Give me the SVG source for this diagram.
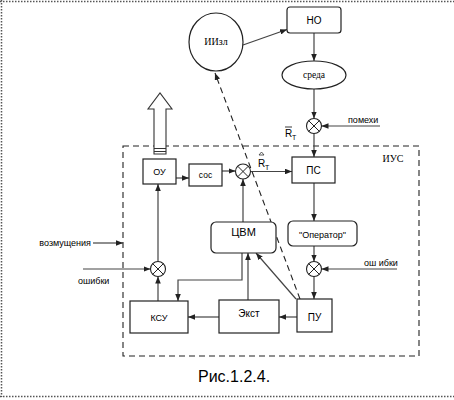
<svg xmlns="http://www.w3.org/2000/svg" width="454" height="400" viewBox="0 0 454 400">
<style>
.box{fill:#fff;stroke:#222;stroke-width:1.2}
.ln{fill:none;stroke:#444;stroke-width:1.2}
.arr{marker-end:url(#ah)}
.dash{fill:none;stroke:#222;stroke-width:1.1;stroke-dasharray:6 4}
.sj circle{fill:#fff;stroke:#222;stroke-width:1.1}
.sj line{stroke:#222;stroke-width:1}
.sa{font-family:"Liberation Sans",Arial,sans-serif;fill:#000}
.ss{font-family:"Liberation Serif","Times New Roman",serif;fill:#000}
.m{text-anchor:middle}
</style>
<defs>
<marker id="ah" viewBox="0 0 10 8" refX="10" refY="4" markerWidth="7" markerHeight="5.6" markerUnits="userSpaceOnUse" orient="auto">
<path d="M0,0 L10,4 L0,8 Z" fill="#222"/>
</marker>
<g id="sum" class="sj">
<circle r="7.5"/>
<line x1="-5.3" y1="-5.3" x2="5.3" y2="5.3"/>
<line x1="-5.3" y1="5.3" x2="5.3" y2="-5.3"/>
</g>
</defs>
<rect width="454" height="400" fill="#fff"/>
<!-- page border -->
<g id="page" fill="none" stroke="#555" stroke-width="1.5" stroke-dasharray="1.5 1.5">
<line x1="0" y1="1.5" x2="454" y2="1.5"/>
<line x1="1.5" y1="0" x2="1.5" y2="397"/>
<line x1="0" y1="396.5" x2="454" y2="396.5"/>
</g>
<!-- ИУС boundary -->
<g id="ius">
<rect x="123" y="146" width="296" height="210" class="dash"/>
<text x="393" y="162" class="ss m" font-size="10">ИУС</text>
</g>
<!-- connectors -->
<g id="connectors">
<line x1="243" y1="45" x2="287" y2="29.5" class="ln arr"/>
<line x1="314" y1="33" x2="314" y2="61" class="ln arr"/>
<line x1="314" y1="89" x2="314" y2="118.5" class="ln arr"/>
<line x1="380" y1="126" x2="321.5" y2="126" class="ln arr"/>
<line x1="314" y1="133.5" x2="314" y2="157" class="ln arr"/>
<line x1="250.5" y1="171.5" x2="292" y2="171.5" class="ln arr"/>
<line x1="176" y1="178" x2="189" y2="178" class="ln arr"/>
<line x1="222" y1="171" x2="235.5" y2="171" class="ln arr"/>
<line x1="243" y1="222" x2="243" y2="179" class="ln arr"/>
<polyline points="242,253 242,280 178,280 178,301" class="ln arr"/>
<line x1="248" y1="300" x2="248" y2="253" class="ln arr"/>
<line x1="296" y1="299" x2="256" y2="253" class="ln arr"/>
<line x1="297" y1="317" x2="279" y2="317" class="ln arr"/>
<line x1="219" y1="317" x2="188" y2="317" class="ln arr"/>
<line x1="158" y1="301" x2="158" y2="276.5" class="ln arr"/>
<line x1="158" y1="261.5" x2="158" y2="184" class="ln arr"/>
<line x1="83" y1="269" x2="150.5" y2="269" class="ln arr"/>
<line x1="93" y1="243" x2="123" y2="243" class="ln arr"/>
<line x1="314" y1="183" x2="314" y2="221" class="ln arr"/>
<line x1="314" y1="246" x2="314" y2="261.5" class="ln arr"/>
<line x1="397" y1="269" x2="321.5" y2="269" class="ln arr"/>
<line x1="314" y1="276.5" x2="314" y2="299" class="ln arr"/>
<line x1="300" y1="299" x2="215" y2="73" class="dash arr"/>
</g>
<!-- hollow output arrow -->
<g id="output">
<path d="M154,154 L154,109 L148,109 L160,93 L172,109 L166,109 L166,154 Z" fill="#fff" stroke="#333" stroke-width="1.1"/>
<line x1="154" y1="148.5" x2="166" y2="148.5" stroke="#333" stroke-width="1"/>
<line x1="154" y1="151.5" x2="166" y2="151.5" stroke="#333" stroke-width="1"/>
</g>
<!-- nodes -->
<g id="iizl">
<ellipse cx="216" cy="42" rx="27" ry="29" class="box"/>
<text x="216" y="45" class="ss m" font-size="10">ИИзл</text>
</g>
<g id="no">
<rect x="287" y="7" width="54" height="26" rx="3" class="box"/>
<text x="314" y="24" class="sa m" font-size="10">НО</text>
</g>
<g id="sreda">
<ellipse cx="314" cy="75" rx="32" ry="14" class="box"/>
<text x="314" y="78" class="ss m" font-size="9.5">среда</text>
</g>
<g id="j1"><use href="#sum" x="314" y="126"/></g>
<g id="pomehi"><text x="348" y="123" class="sa" font-size="9">помехи</text></g>
<g id="rt-bar">
<line x1="285" y1="127" x2="292" y2="127" stroke="#222" stroke-width="0.9"/>
<text x="285" y="137" class="sa" font-size="10">R</text>
<text x="292" y="140" class="sa" font-size="7">T</text>
</g>
<g id="ps">
<rect x="292" y="157" width="43" height="26" class="box"/>
<text x="313.5" y="174" class="sa m" font-size="10">ПС</text>
</g>
<g id="ou">
<rect x="143" y="159" width="33" height="25" class="box"/>
<text x="159.5" y="175" class="sa m" font-size="9">ОУ</text>
</g>
<g id="sos">
<rect x="189" y="164" width="33" height="22" class="box"/>
<text x="205.5" y="178" class="sa m" font-size="8.5">сос</text>
</g>
<g id="j2"><use href="#sum" x="243" y="171.5"/></g>
<g id="rt-hat">
<path d="M259,155 L261.5,152 L264,155 Z" fill="none" stroke="#333" stroke-width="0.8"/>
<text x="258" y="167" class="sa" font-size="10">R</text>
<text x="265" y="170" class="sa" font-size="7">T</text>
</g>
<g id="cvm">
<rect x="211" y="222" width="65" height="31" rx="5" class="box"/>
<text x="243.5" y="236" class="sa m" font-size="11">ЦВМ</text>
</g>
<g id="operator">
<rect x="288" y="221" width="69" height="25" rx="5" class="box"/>
<text x="322.5" y="238" class="sa m" font-size="9">"Оператор"</text>
</g>
<g id="j4"><use href="#sum" x="314" y="269"/></g>
<g id="oshibki-r"><text x="364" y="266" class="sa" font-size="9">ош ибки</text></g>
<g id="j3"><use href="#sum" x="158" y="269"/></g>
<g id="vozm"><text x="91" y="246" class="sa" font-size="9" text-anchor="end">возмущения</text></g>
<g id="oshibki-l"><text x="78" y="284" class="sa" font-size="9">ошибки</text></g>
<g id="ksu">
<rect x="130" y="301" width="58" height="32" class="box"/>
<text x="159" y="321" class="sa m" font-size="9">КСУ</text>
</g>
<g id="ekst">
<rect x="219" y="300" width="60" height="33" class="box"/>
<text x="249" y="317" class="sa m" font-size="10">Экст</text>
</g>
<g id="pu">
<rect x="297" y="299" width="35" height="33" class="box"/>
<text x="314.5" y="321" class="sa m" font-size="10">ПУ</text>
</g>
<g id="caption"><text x="198" y="382" class="sa" font-size="16">Рис.1.2.4.</text></g>
</svg>
